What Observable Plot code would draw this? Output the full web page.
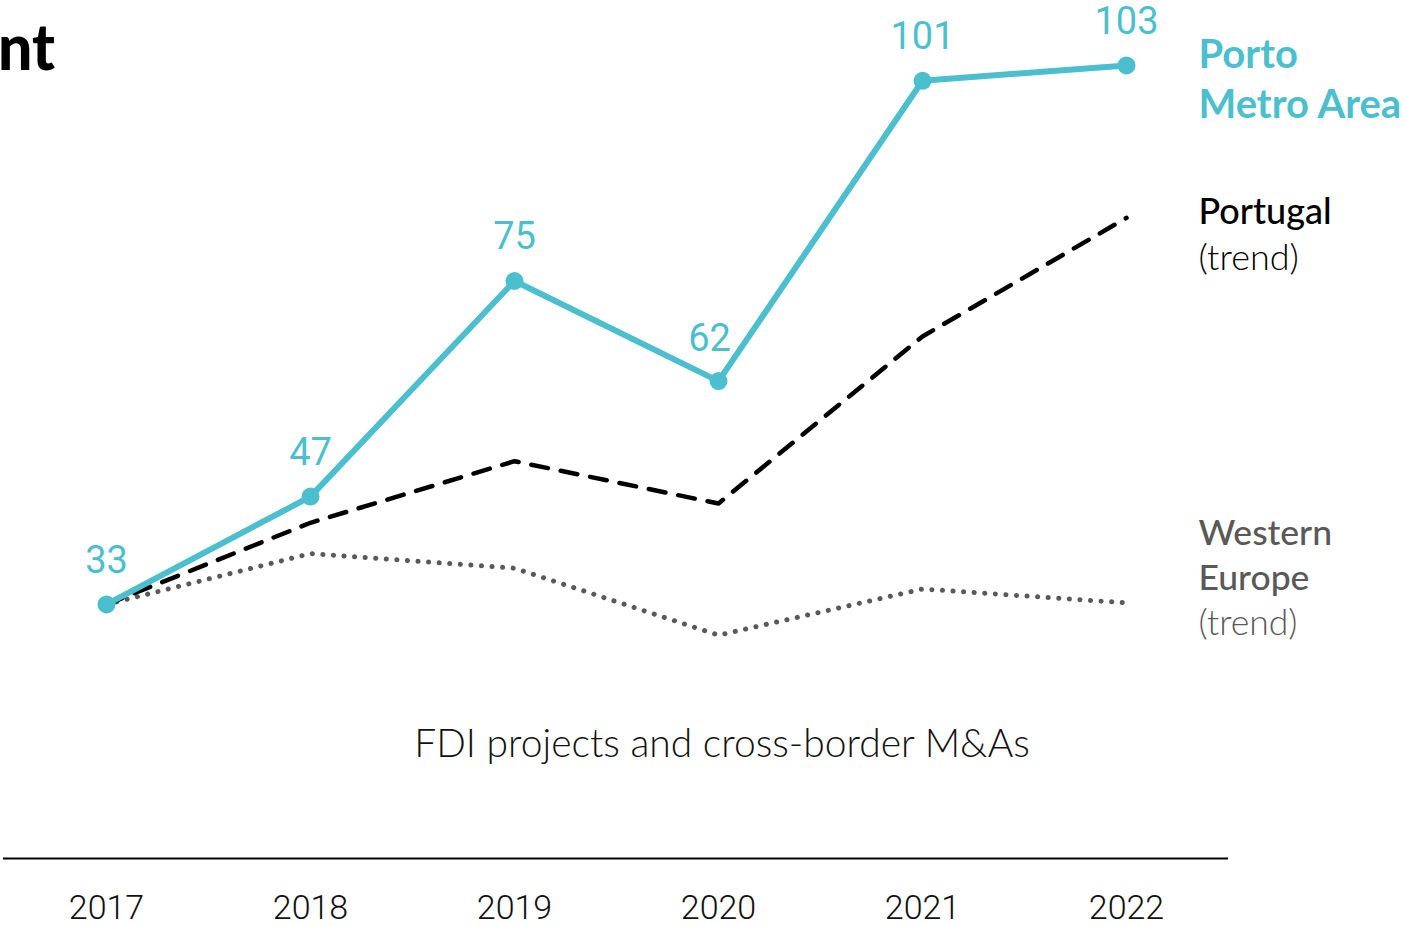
<!DOCTYPE html>
<html>
<head>
<meta charset="utf-8">
<script src="https://cdn.jsdelivr.net/npm/d3@7"></script>
<script src="https://cdn.jsdelivr.net/npm/@observablehq/plot@0.6"></script>
<style>
  html, body { margin: 0; padding: 0; background: #fff; overflow: hidden; }
  #wrap { position: relative; width: 1403px; height: 926px; }
  #title { position: absolute; left: -2px; top: 14px; font-family: Lato, sans-serif; font-weight: 900; font-size: 64px; color: #000; line-height: 1; transform: scaleX(0.95); transform-origin: left top; }
  #sub { position: absolute; left: 0; width: 1444px; top: 719px; text-align: center; font-family: Lato, sans-serif; font-weight: 300; font-size: 39px; color: #111; }
  #chart { position: absolute; left: 0; top: 0; }
</style>
</head>
<body>
<div id="wrap">
  <div id="chart"></div>
  <div id="title">nt</div>
  <div id="sub">FDI projects and cross-border M&amp;As</div>
</div>
<script>
const years = ["2017", "2018", "2019", "2020", "2021", "2022"];
const porto = [33, 47, 75, 62, 101, 103];
const portugal = [33, 43.6, 51.6, 46.1, 67.8, 83.2];
const westernEurope = [33, 39.6, 37.7, 29.0, 35.0, 33.2];

const teal = "#4bbfcd";
const grey = "#595959";

const rows = (vals) => years.map((y, i) => ({year: y, value: vals[i]}));
const portoRows = rows(porto);
const portugalRows = rows(portugal);
const weRows = rows(westernEurope);
const last = (r) => [r[r.length - 1]];

const valueLabel = {x: "year", y: "value", text: (d) => String(d.value), dy: -44, fill: teal, fontSize: 38, fontFamily: "Roboto", fontWeight: 400};

const chart = Plot.plot({
  width: 1403,
  height: 926,
  marginLeft: 3,
  marginRight: 175,
  marginTop: 11,
  marginBottom: 68,
  style: {background: "transparent", overflow: "visible"},
  x: {type: "point", domain: years, padding: 0.5, label: null},
  y: {domain: [0, 110], axis: null},
  marks: [
    Plot.axisX({tickSize: 0, tickPadding: 36, fontSize: 34, fontFamily: "Roboto", fontWeight: 300, color: "#111", label: null}),
    Plot.ruleY([0], {stroke: "#000", strokeWidth: 2}),
    Plot.line(weRows, {x: "year", y: "value", stroke: grey, strokeWidth: 5, strokeDasharray: "0.1 10.5", strokeLinecap: "round"}),
    Plot.line(portugalRows, {x: "year", y: "value", stroke: "#000", strokeWidth: 4.5, strokeDasharray: "17 13", strokeLinecap: "round"}),
    Plot.line(portoRows, {x: "year", y: "value", stroke: teal, strokeWidth: 6}),
    Plot.dot(portoRows, {x: "year", y: "value", fill: teal, r: 9}),
    Plot.text(portoRows.filter((d) => d.year !== "2020"), valueLabel),
    Plot.text(portoRows.filter((d) => d.year === "2020"), {...valueLabel, dx: -9, dy: -42}),
    // series labels
    Plot.text(last(portoRows), {x: "year", y: "value", text: () => "Porto", dx: 72, dy: -10, textAnchor: "start", fill: teal, fontSize: 40, fontFamily: "Lato", fontWeight: 700}),
    Plot.text(last(portoRows), {x: "year", y: "value", text: () => "Metro Area", dx: 72, dy: 40, textAnchor: "start", fill: teal, fontSize: 40, fontFamily: "Lato", fontWeight: 700}),
    Plot.text(last(portugalRows), {x: "year", y: "value", text: () => "Portugal", dx: 72, dy: -5, textAnchor: "start", fill: "#000", fontSize: 36, fontFamily: "Lato", fontWeight: 500}),
    Plot.text(last(portugalRows), {x: "year", y: "value", text: () => "(trend)", dx: 72, dy: 41, textAnchor: "start", fill: "#000", fontSize: 36, fontFamily: "Lato", fontWeight: 300}),
    Plot.text(last(weRows), {x: "year", y: "value", text: () => "Western", dx: 72, dy: -69, textAnchor: "start", fill: grey, fontSize: 35.5, fontFamily: "Lato", fontWeight: 500}),
    Plot.text(last(weRows), {x: "year", y: "value", text: () => "Europe", dx: 72, dy: -24, textAnchor: "start", fill: grey, fontSize: 35.5, fontFamily: "Lato", fontWeight: 500}),
    Plot.text(last(weRows), {x: "year", y: "value", text: () => "(trend)", dx: 72, dy: 21, textAnchor: "start", fill: grey, fontSize: 35.5, fontFamily: "Lato", fontWeight: 300})
  ]
});
document.getElementById("chart").appendChild(chart);
</script>
</body>
</html>
